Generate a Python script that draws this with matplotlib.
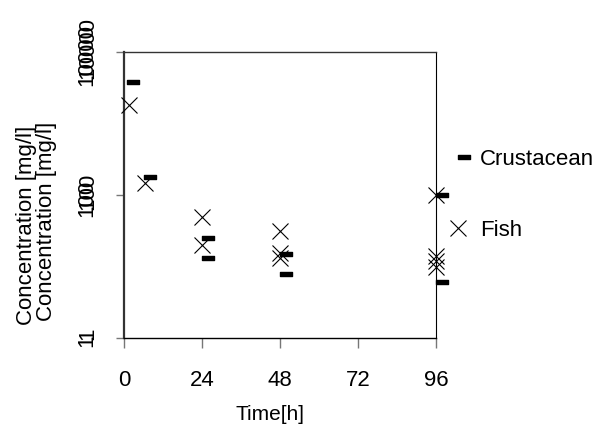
import numpy as np
import matplotlib
matplotlib.use('Agg')
from matplotlib import pyplot as plt
from matplotlib.path import Path
from matplotlib.lines import Line2D
from matplotlib import transforms

plt.rcParams['font.family'] = ['Liberation Sans', 'DejaVu Sans']

# data
crust_t = [1, 6, 24, 24, 48, 48, 96, 96]
crust_c = [3800, 181, 25, 13, 15, 7.9, 100, 6.1]
fish_t = [1.5, 6.5, 24, 24, 48, 48, 48, 96, 96, 96, 96]
fish_c = [1815, 147, 49, 20, 31, 15.4, 13, 100, 14, 12, 9.8]

xticks = [0, 24, 48, 72, 96]
yticks = [1, 100, 10000]
ytick_labels = ['1', '100', '10000']
series = ['Crustacean', 'Fish']

# dash marker that starts at the point and runs to the right
dash = Path([(0, -0.17), (1, -0.17), (1, 0.17), (0, 0.17), (0, -0.17)],
            [Path.MOVETO, Path.LINETO, Path.LINETO, Path.LINETO, Path.CLOSEPOLY])

fig = plt.figure(figsize=(5.96, 4.34), dpi=100)
W, H = 596, 434
ax = fig.add_axes([124 / W, 96 / H, 312 / W, 286 / H])

ax.plot(fish_t, fish_c, linestyle='none', marker='x', ms=11.5, mew=0.8,
        color='black', clip_on=False, zorder=3)
ax.plot(crust_t, crust_c, linestyle='none', marker=dash, ms=17.3,
        color='black', clip_on=False, zorder=4)

ax.set_yscale('log')
ax.set_xlim(0, 96)
ax.set_ylim(1, 10000)
ax.set_xticks(xticks)
ax.set_xticklabels([str(t) for t in xticks], fontsize=16)
ax.set_yticks(yticks)
ax.set_yticklabels([])
ax.yaxis.set_minor_locator(matplotlib.ticker.NullLocator())
ax.tick_params(axis='x', direction='out', length=7, width=1, color='#777777', pad=16)
ax.tick_params(axis='y', direction='out', length=6, width=1, color='#777777')

ax.spines['left'].set_linewidth(1.6)
ax.spines['left'].set_color('#333333')
ax.spines['top'].set_linewidth(1.0)
ax.spines['top'].set_color('#333333')
ax.spines['bottom'].set_linewidth(1.0)
ax.spines['bottom'].set_color('black')
ax.spines['right'].set_linewidth(0.8)
ax.spines['right'].set_color('black')

# y tick labels, drawn twice slightly apart like the original
ytr = ax.get_yaxis_transform()
for v, lab in zip(yticks, ytick_labels):
    for dx, dy in [(0, -3), (1, 4)]:
        tr = transforms.offset_copy(ytr, fig=fig, x=dx, y=dy, units='dots')
        ax.text(-37 / 312, v, lab, transform=tr, rotation=90, ha='center',
                va='center', fontsize=16)

# y axis title, also doubled
fig.text(27 / W, 1 - 225 / H, 'Concentration [mg/l]', rotation=90,
         ha='center', va='center', fontsize=16)
fig.text(47 / W, 1 - 221 / H, 'Concentration [mg/l]', rotation=90,
         ha='center', va='center', fontsize=16)

fig.text(270 / W, 1 - 415 / H, 'Time[h]', ha='center', va='center', fontsize=15)

handles = [Line2D([], [], linestyle='none', marker=dash, ms=17.3, color='black'),
           Line2D([], [], linestyle='none', marker='x', ms=11.5, mew=0.8, color='black')]
fig.legend(handles, series, loc='upper left', bbox_to_anchor=(447 / W, 1 - 149 / H),
           frameon=False, fontsize=16, labelspacing=2.25, handlelength=1.0,
           handletextpad=0.5, borderpad=0, borderaxespad=0)

fig.savefig('out.png', dpi=100)
